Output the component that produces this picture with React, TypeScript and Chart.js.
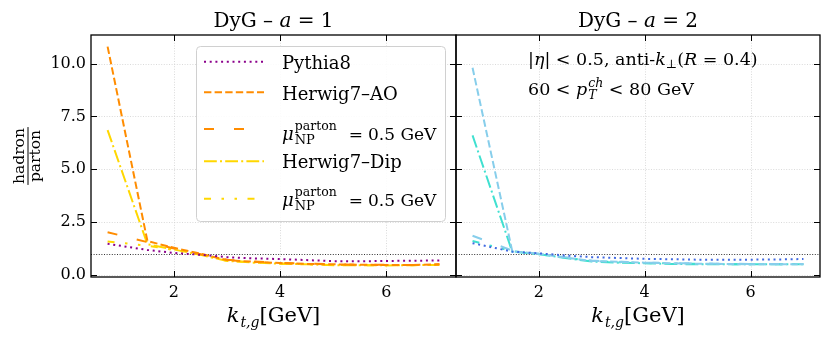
import React, { useEffect, useRef } from "react";
import { Chart, registerables } from "chart.js";

Chart.register(...registerables);

// ---------------- data ----------------
const kt = [0.75, 1.5, 2, 2.5, 3, 3.5, 4, 4.5, 5, 5.5, 6, 6.5, 7];

// panel a = 1
const pythiaA1 = [1.47, 1.18, 1.04, 0.95, 0.84, 0.78, 0.75, 0.7, 0.65, 0.64, 0.66, 0.67, 0.68];
const herwigAOA1 = [10.8, 1.6, 1.28, 1.0, 0.7, 0.62, 0.56, 0.52, 0.5, 0.48, 0.47, 0.47, 0.5];
const herwigAOMuA1 = [2.02, 1.55, 1.25, 0.98, 0.72, 0.63, 0.57, 0.53, 0.5, 0.48, 0.48, 0.47, 0.5];
const herwigDipA1 = [6.85, 1.45, 1.2, 0.95, 0.66, 0.58, 0.53, 0.5, 0.46, 0.46, 0.45, 0.46, 0.47];
const herwigDipMuA1 = [1.58, 1.38, 1.18, 0.95, 0.67, 0.6, 0.54, 0.5, 0.47, 0.46, 0.45, 0.46, 0.48];

// panel a = 2
const pythiaA2 = [1.5, 1.1, 1.02, 0.92, 0.84, 0.8, 0.76, 0.74, 0.72, 0.72, 0.72, 0.73, 0.75];
const herwigAOA2 = [9.8, 1.12, 1.0, 0.82, 0.66, 0.62, 0.58, 0.55, 0.53, 0.52, 0.5, 0.5, 0.5];
const herwigAOMuA2 = [1.85, 1.15, 1.0, 0.84, 0.68, 0.62, 0.58, 0.56, 0.54, 0.53, 0.52, 0.52, 0.52];
const herwigDipA2 = [6.6, 1.1, 0.98, 0.8, 0.63, 0.58, 0.55, 0.52, 0.5, 0.5, 0.5, 0.5, 0.5];
const herwigDipMuA2 = [1.6, 1.12, 0.98, 0.82, 0.65, 0.6, 0.56, 0.54, 0.52, 0.51, 0.5, 0.5, 0.52];

const seriesNames = ["Pythia8", "Herwig7–AO", "μNP parton = 0.5 GeV", "Herwig7–Dip", "μNP parton = 0.5 GeV"];
const colorsA1 = ["#8B008B", "#FF8C00", "#FF8C00", "#FFD700", "#FFD700"];
const colorsA2 = ["#4169E1", "#87CEEB", "#87CEEB", "#40E0D0", "#40E0D0"];

const xTicks = [2, 4, 6];
const yTicks = [0, 2.5, 5, 7.5, 10];
const X_MIN = 0.4375;
const X_MAX = 7.3125;
const Y_MIN = -0.1;
const Y_MAX = 11.35;
const REF_LINE = 1;

// ---------------- styling ----------------
const FONT = '"DejaVu Serif", serif';
const dashes = [
  [2, 3.7],
  [7.4, 3.2],
  [10, 20],
  [12.8, 3.2, 2, 3.2],
  [7, 10.5, 2.5, 10.5, 2.5, 10.5],
];

type Run = { t: string; size: number; italic?: boolean; dy?: number; dx?: number };
type Item = Run | { stack: Run[] };

function fontOf(r: Run) {
  return `${r.italic ? "italic " : ""}${r.size}px ${FONT}`;
}
function itemWidth(ctx: CanvasRenderingContext2D, it: Item): number {
  if ("stack" in it) {
    let m = 0;
    for (const r of it.stack) {
      ctx.font = fontOf(r);
      m = Math.max(m, ctx.measureText(r.t).width + (r.dx || 0));
    }
    return m;
  }
  ctx.font = fontOf(it);
  return ctx.measureText(it.t).width + (it.dx || 0);
}
function runsWidth(ctx: CanvasRenderingContext2D, items: Item[]) {
  return items.reduce((s, it) => s + itemWidth(ctx, it), 0);
}
function drawRuns(ctx: CanvasRenderingContext2D, x: number, y: number, items: Item[]) {
  ctx.textAlign = "left";
  ctx.textBaseline = "alphabetic";
  ctx.fillStyle = "#000";
  for (const it of items) {
    if ("stack" in it) {
      for (const r of it.stack) {
        ctx.font = fontOf(r);
        ctx.fillText(r.t, x + (r.dx || 0), y + (r.dy || 0));
      }
      x += itemWidth(ctx, it);
    } else {
      ctx.font = fontOf(it);
      ctx.fillText(it.t, x + (it.dx || 0), y + (it.dy || 0));
      x += itemWidth(ctx, it);
    }
  }
  return x;
}

function muLabel(): Item[] {
  return [
    { t: "μ", size: 18, italic: true },
    {
      stack: [
        { t: "parton", size: 12.5, dy: -10, dx: 1 },
        { t: "NP", size: 13, dy: 4, dx: 1 },
      ],
    },
    { t: "=", size: 17, dx: 12 },
    { t: "0.5 GeV", size: 17, dx: 5 },
  ];
}

function legendItems(i: number): Item[] {
  if (i === 2 || i === 4) return muLabel();
  return [{ t: seriesNames[i], size: 18 }];
}

function makePlugin(side: "left" | "right", colors: string[], aValue: string) {
  return {
    id: "panel-" + side,
    beforeDatasetsDraw(chart: any) {
      const { ctx, chartArea: a, scales } = chart;
      const x = scales.x;
      const y = scales.y;
      ctx.save();
      ctx.strokeStyle = "#d0d0d0";
      ctx.lineWidth = 0.8;
      ctx.setLineDash([1, 1.6]);
      for (const v of xTicks) {
        const px = Math.round(x.getPixelForValue(v)) + 0.5;
        ctx.beginPath();
        ctx.moveTo(px, a.top);
        ctx.lineTo(px, a.bottom);
        ctx.stroke();
      }
      for (const v of yTicks) {
        const py = Math.round(y.getPixelForValue(v)) + 0.5;
        ctx.beginPath();
        ctx.moveTo(a.left, py);
        ctx.lineTo(a.right, py);
        ctx.stroke();
      }
      ctx.strokeStyle = "#333";
      ctx.lineWidth = 1;
      ctx.setLineDash([1, 1.6]);
      const py1 = Math.round(y.getPixelForValue(REF_LINE)) + 0.5;
      ctx.beginPath();
      ctx.moveTo(a.left, py1);
      ctx.lineTo(a.right, py1);
      ctx.stroke();
      ctx.restore();
    },
    afterDraw(chart: any) {
      const { ctx, chartArea: a, scales } = chart;
      const x = scales.x;
      const y = scales.y;
      ctx.save();
      ctx.setLineDash([]);
      // frame
      ctx.strokeStyle = "#000";
      ctx.lineWidth = 1.3;
      ctx.strokeRect(a.left, a.top, a.right - a.left, a.bottom - a.top);
      // inward ticks
      ctx.lineWidth = 1;
      const tl = 6;
      for (const v of xTicks) {
        const px = Math.round(x.getPixelForValue(v)) + 0.5;
        ctx.beginPath();
        ctx.moveTo(px, a.bottom);
        ctx.lineTo(px, a.bottom - tl);
        ctx.moveTo(px, a.top);
        ctx.lineTo(px, a.top + tl);
        ctx.stroke();
      }
      for (const v of yTicks) {
        const py = Math.round(y.getPixelForValue(v)) + 0.5;
        ctx.beginPath();
        ctx.moveTo(a.left, py);
        ctx.lineTo(a.left + tl, py);
        ctx.moveTo(a.right, py);
        ctx.lineTo(a.right - tl, py);
        ctx.stroke();
      }
      const cx = (a.left + a.right) / 2;
      // title
      const title: Item[] = [
        { t: "DyG – ", size: 20 },
        { t: "a", size: 20, italic: true },
        { t: " = " + aValue, size: 20 },
      ];
      drawRuns(ctx, cx - runsWidth(ctx, title) / 2, 27, title);
      // x label
      const xl: Item[] = [
        { t: "k", size: 21, italic: true },
        { t: "t,g", size: 14, italic: true, dy: 5, dx: 1 },
        { t: "[GeV]", size: 21 },
      ];
      drawRuns(ctx, cx - runsWidth(ctx, xl) / 2, 322, xl);

      if (side === "left") {
        // y label as fraction
        ctx.save();
        ctx.translate(28, 156);
        ctx.rotate(-Math.PI / 2);
        ctx.font = `15.5px ${FONT}`;
        ctx.textAlign = "center";
        ctx.textBaseline = "alphabetic";
        ctx.fillStyle = "#000";
        ctx.fillText("hadron", 0, -4);
        ctx.fillText("parton", 0, 12);
        const w = Math.max(ctx.measureText("hadron").width, ctx.measureText("parton").width);
        ctx.lineWidth = 1;
        ctx.beginPath();
        ctx.moveTo(-w / 2 - 1, 0);
        ctx.lineTo(w / 2 + 1, 0);
        ctx.stroke();
        ctx.restore();

        // legend
        ctx.save();
        ctx.fillStyle = "rgba(255,255,255,0.9)";
        ctx.strokeStyle = "#d0d0d0";
        ctx.lineWidth = 1;
        ctx.beginPath();
        (ctx as any).roundRect(196.5, 46.5, 249, 175, 4);
        ctx.fill();
        ctx.stroke();
        const handleY = [61.7, 92.3, 129, 161.3, 198.7];
        const baseY = [68.7, 99.7, 139.7, 168, 206.3];
        for (let i = 0; i < seriesNames.length; i++) {
          ctx.strokeStyle = colors[i];
          ctx.lineWidth = 2;
          ctx.lineCap = "butt";
          ctx.setLineDash(dashes[i]);
          ctx.beginPath();
          ctx.moveTo(204, handleY[i]);
          ctx.lineTo(264, handleY[i]);
          ctx.stroke();
          ctx.setLineDash([]);
          drawRuns(ctx, 282, baseY[i], legendItems(i));
        }
        ctx.restore();
      } else {
        const l1: Item[] = [
          { t: "|", size: 17.5 },
          { t: "η", size: 17.5, italic: true },
          { t: "| < 0.5, anti-", size: 17.5 },
          { t: "k", size: 17.5, italic: true },
          { t: "⊥", size: 12, dy: 3 },
          { t: "(", size: 17.5 },
          { t: "R", size: 17.5, italic: true },
          { t: " = 0.4)", size: 17.5 },
        ];
        drawRuns(ctx, 528, 65, l1);
        const l2: Item[] = [
          { t: "60 < ", size: 17.5 },
          { t: "p", size: 17.5, italic: true },
          {
            stack: [
              { t: "ch", size: 12.5, italic: true, dy: -8, dx: 1 },
              { t: "T", size: 12.5, italic: true, dy: 4, dx: 1 },
            ],
          },
          { t: " < 80 GeV", size: 17.5 },
        ];
        drawRuns(ctx, 528, 95, l2);
      }
      ctx.restore();
    },
  };
}

function buildChart(canvas: HTMLCanvasElement, side: "left" | "right", values: number[][], colors: string[], aValue: string) {
  const datasets = values.map((vals, i) => ({
    label: seriesNames[i],
    data: kt.map((k, j) => ({ x: k, y: vals[j] })),
    borderColor: colors[i],
    backgroundColor: colors[i],
    borderWidth: 2,
    borderDash: dashes[i],
    borderCapStyle: "butt" as const,
    pointRadius: 0,
    fill: false,
    tension: 0,
  }));
  const isLeft = side === "left";
  return new Chart(canvas, {
    type: "line",
    data: { datasets },
    plugins: [makePlugin(side, colors, aValue)],
    options: {
      responsive: false,
      animation: false,
      devicePixelRatio: 1,
      layout: {
        padding: isLeft
          ? { left: 0, right: 375, top: 35, bottom: 0 }
          : { left: 456, right: 11, top: 35, bottom: 0 },
      },
      plugins: {
        legend: { display: false },
        tooltip: { enabled: false },
        title: { display: false },
      },
      scales: {
        x: {
          type: "linear",
          min: X_MIN,
          max: X_MAX,
          afterBuildTicks: (s: any) => {
            s.ticks = xTicks.map((v) => ({ value: v }));
          },
          afterFit: (s: any) => {
            s.height = 67;
          },
          grid: { display: false, drawTicks: false },
          border: { display: false },
          ticks: {
            font: { family: FONT, size: 16 },
            color: "#000",
            padding: 6,
            maxRotation: 0,
            callback: (v: any) => String(v),
          },
        },
        y: {
          type: "linear",
          min: Y_MIN,
          max: Y_MAX,
          afterBuildTicks: (s: any) => {
            s.ticks = yTicks.map((v) => ({ value: v }));
          },
          afterFit: (s: any) => {
            s.width = isLeft ? 91 : 0;
          },
          grid: { display: false, drawTicks: false },
          border: { display: false },
          ticks: {
            display: isLeft,
            font: { family: FONT, size: 16 },
            color: "#000",
            padding: 5,
            callback: (v: any) => Number(v).toFixed(1),
          },
        },
      },
    } as any,
  });
}

export default function App() {
  const leftRef = useRef<HTMLCanvasElement>(null);
  const rightRef = useRef<HTMLCanvasElement>(null);

  useEffect(() => {
    const c1 = buildChart(
      leftRef.current!,
      "left",
      [pythiaA1, herwigAOA1, herwigAOMuA1, herwigDipA1, herwigDipMuA1],
      colorsA1,
      "1"
    );
    const c2 = buildChart(
      rightRef.current!,
      "right",
      [pythiaA2, herwigAOA2, herwigAOMuA2, herwigDipA2, herwigDipMuA2],
      colorsA2,
      "2"
    );
    return () => {
      c1.destroy();
      c2.destroy();
    };
  }, []);

  const cs: React.CSSProperties = { position: "absolute", left: 0, top: 0, width: 831, height: 344 };
  return (
    <div style={{ position: "absolute", left: 0, top: 0, width: 831, height: 344, background: "#fff" }}>
      <canvas ref={leftRef} width={831} height={344} style={cs} />
      <canvas ref={rightRef} width={831} height={344} style={cs} />
    </div>
  );
}
